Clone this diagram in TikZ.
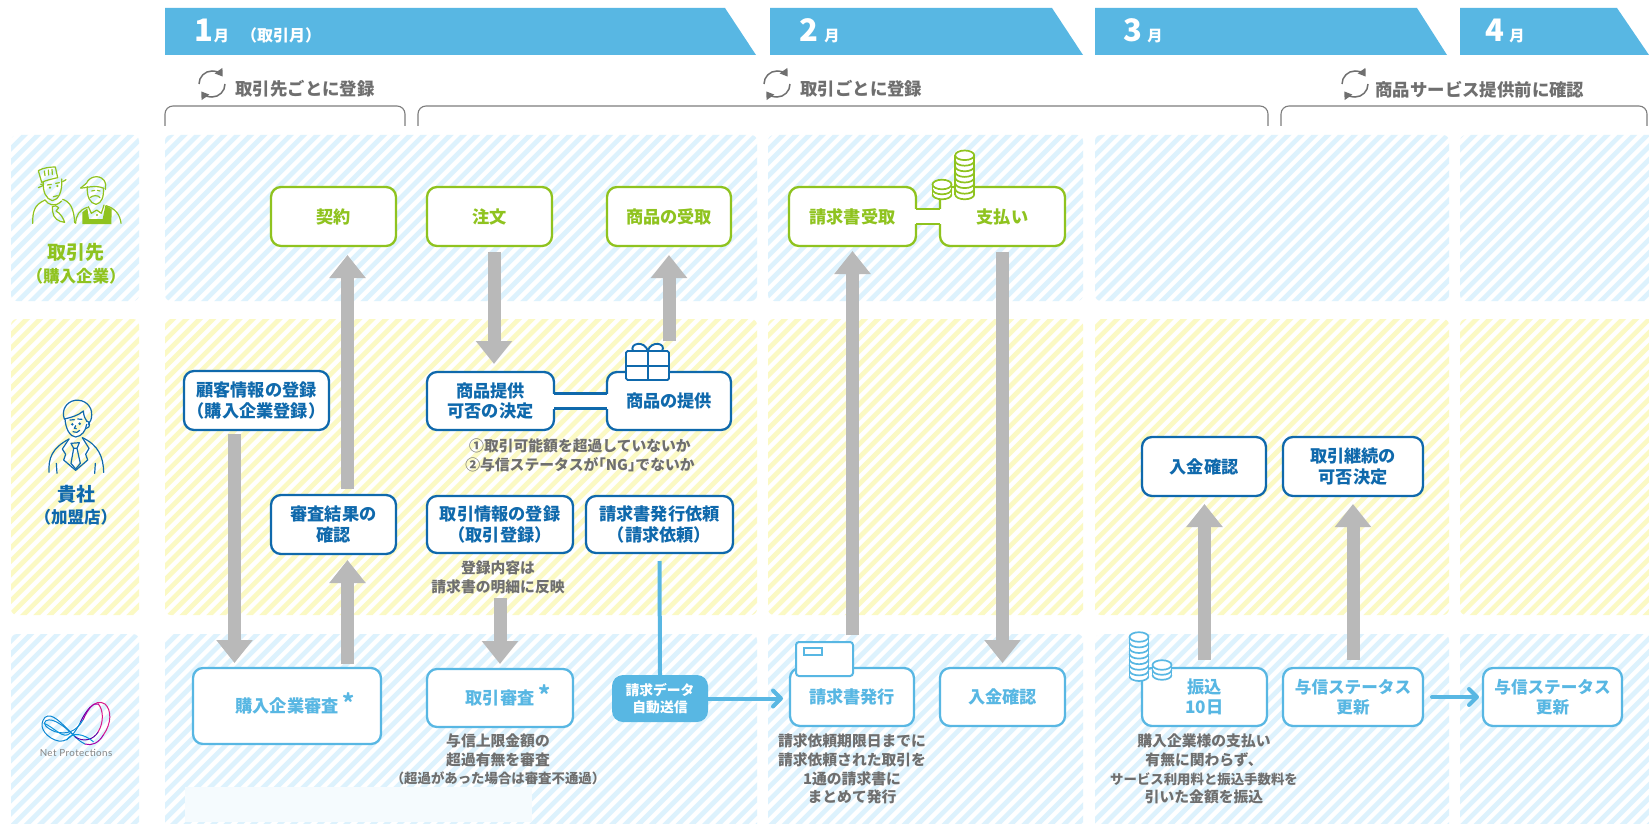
\documentclass[tikz,border=0pt]{standalone}
\usepackage{fontspec}
\setmainfont{Noto Sans CJK JP}
\newfontfamily\logofont[LetterSpace=4]{Lato}
\usetikzlibrary{arrows.meta,calc}
\definecolor{skyband}{HTML}{58B7E3}
\definecolor{leaf}{HTML}{8FC31F}
\definecolor{navy}{HTML}{0F69AC}
\definecolor{ash}{HTML}{6F6F6F}
\definecolor{arrowgray}{HTML}{B9B9B9}
\definecolor{hatchblue}{HTML}{DDF2FD}
\definecolor{hatchyellow}{HTML}{FBF9C4}
\newcommand\jpsize[2]{\fontsize{#1pt}{#2pt}\selectfont\bfseries}
\tikzset{
  flowbox/.style={rectangle,rounded corners=5pt,fill=white,line width=1.15pt,inner sep=0pt,outer sep=0pt,align=center,font=\jpsize{8.6}{10.3}},
  greenbox/.style={flowbox,draw=leaf,text=leaf},
  navybox/.style={flowbox,draw=navy,text=navy},
  skybox/.style={flowbox,draw=skyband,text=skyband},
  pillbox/.style={rectangle,rounded corners=5.5pt,fill=skyband,text=white,inner sep=0pt,outer sep=0pt,align=center,font=\jpsize{6.9}{8.3}},
  caption/.style={text=ash,align=center,inner sep=0pt,font=\jpsize{7.4}{9.35}},
  subhead/.style={text=ash,anchor=west,inner sep=0pt,font=\jpsize{8.7}{10}},
  rowtitle/.style={align=center,inner sep=0pt,font=\jpsize{9.5}{11}},
  rowsub/.style={align=center,inner sep=0pt,font=\jpsize{8.25}{10}},
  monthlabel/.style={text=white,anchor=base west,inner sep=0pt,font=\jpsize{7.6}{9}},
  band/.style={fill=skyband},
  graystep/.style={draw=arrowgray,line width=6.5pt,-{Triangle[length=11.5pt,width=17.5pt,fill=arrowgray]}},
  skyflow/.style={draw=skyband,line width=2pt,line cap=round,-{Straight Barb[length=4pt,width=8pt,line cap=round,line join=round]}},
  skyline/.style={draw=skyband,line width=2pt},
  bracket/.style={draw=ash!90,line width=.55pt,rounded corners=4pt},
  icongreen/.style={draw=leaf,line width=.6pt,line cap=round,line join=round},
  iconnavy/.style={draw=navy,line width=.6pt,line cap=round,line join=round}
}
% box given by its corners, in pixel coordinates
\newcommand\boxat[7]{\node[#1,minimum width={(#5-#3)*0.5},minimum height={(#6-#4)*0.5}] (#2) at ({(#3+#5)/2},{(#4+#6)/2}) {#7};}
% month band with slanted right end
\newcommand\monthband[3]{\fill[band] (#1,8) -- (#2,8) -- (#3,55) -- (#1,55) -- cycle;}
% review mark after a box label
\newcommand\reviewmark{\rlap{\smash{\kern2pt\raisebox{.5pt}{\fontsize{11.5}{11.5}\selectfont *}}}}
% circular arrows in front of a sub-heading
\newcommand\cycleicon[2]{\begin{scope}[shift={(#1,#2)}]
  \draw[draw=ash,line width=.75pt,-{Triangle[length=3.6pt,width=4.6pt,fill=ash]}] (-6.5pt,0pt) arc[start angle=180,end angle=35,radius=6.5pt];
  \draw[draw=ash,line width=.75pt,-{Triangle[length=3.6pt,width=4.6pt,fill=ash]}] (6.5pt,0pt) arc[start angle=0,end angle=-145,radius=6.5pt];
\end{scope}}
% stack of coins: centre x, centre y of the top coin, rim step, number of rims, colour
\newcommand\coinstack[5]{\begin{scope}[shift={(#1,#2)}]
  \pgfmathsetmacro\stackdrop{#3*#4}
  \fill[white] (-9.5,0) rectangle (9.5,\stackdrop);
  \fill[white] (0,\stackdrop) ellipse[x radius=4.75pt,y radius=2.4pt];
  \fill[white] (0,0) ellipse[x radius=4.75pt,y radius=2.4pt];
  \draw[#5,line width=.85pt] (-9.5,0) -- (-9.5,\stackdrop) (9.5,0) -- (9.5,\stackdrop);
  \draw[#5,line width=.85pt] (0,0) ellipse[x radius=4.75pt,y radius=2.4pt];
  \foreach \k in {1,...,#4}{
    \pgfmathsetmacro\rimy{#3*\k}
    \draw[#5,line width=.85pt] (-9.5,\rimy) arc[start angle=180,end angle=360,x radius=4.75pt,y radius=2.4pt];
  }
\end{scope}}
\begin{document}
\begin{tikzpicture}[x=0.5pt,y=-0.5pt]
\useasboundingbox (0,0) rectangle (1649,824);
\fill[white] (0,0) rectangle (1649,824);

% striped row backgrounds
\begin{scope}
  \clip[rounded corners=3pt]
    (11,135) rectangle (139,301) (165,135) rectangle (757,301) (768,135) rectangle (1083,301)
    (1095,135) rectangle (1449,301) (1460,135) rectangle (1655,301)
    (11,634) rectangle (139,830) (165,634) rectangle (757,830) (768,634) rectangle (1083,830)
    (1095,634) rectangle (1449,830) (1460,634) rectangle (1655,830);
  \foreach \c in {0,13.3,...,2500}{\draw[hatchblue,line width=2.35pt] (\c,0) -- ({\c-830},830);}
\end{scope}
\begin{scope}
  \clip[rounded corners=3pt]
    (11,319) rectangle (139,615) (165,319) rectangle (757,615) (768,319) rectangle (1083,615)
    (1095,319) rectangle (1449,615) (1460,319) rectangle (1655,615);
  \foreach \c in {0,13.3,...,2500}{\draw[hatchyellow,line width=2.35pt] (\c,0) -- ({\c-830},830);}
\end{scope}
\fill[hatchblue!30] (185,787) rectangle (532,822);

% month bands
\monthband{165}{725}{756}
\monthband{770}{1052}{1083}
\monthband{1095}{1417}{1447}
\monthband{1460}{1617}{1649}
\node[monthlabel] (m1) at (194,42) {{\fontsize{15.5}{15.5}\selectfont 1}\kern.3pt 月\kern6pt{\fontsize{8}{9}\selectfont （取引月）}};
\node[monthlabel] (m2) at (799,42) {{\fontsize{15.5}{15.5}\selectfont 2}\kern3pt 月};
\node[monthlabel] (m3) at (1123,42) {{\fontsize{15.5}{15.5}\selectfont 3}\kern2.5pt 月};
\node[monthlabel] (m4) at (1485,42) {{\fontsize{15.5}{15.5}\selectfont 4}\kern2.5pt 月};

% registration spans
\cycleicon{212}{84}\cycleicon{777}{84}\cycleicon{1355}{84}
\node[subhead] (s1) at (235,89) {取引先ごとに登録};
\node[subhead] (s2) at (800,89) {取引ごとに登録};
\node[subhead] (s3) at (1375,90) {商品サービス提供前に確認};
\draw[bracket] (165,126) -- (165,106) -- (405,106) -- (405,126);
\draw[bracket] (418,126) -- (418,106) -- (1268,106) -- (1268,126);
\draw[bracket] (1281,126) -- (1281,106) -- (1647,106) -- (1647,126);

% row titles
\node[rowtitle,text=leaf] (t1) at (76,252) {取引先};
\node[rowsub,text=leaf] (t1b) at (76,276) {（購入企業）};
\node[rowtitle,text=navy] (t2) at (76,494) {貴社};
\node[rowsub,text=navy] (t2b) at (76,517) {（加盟店）};

% customer figures: chef
\begin{scope}[shift={(20,155)},x=0.1667pt,y=-0.1667pt]
  \draw[icongreen] (55,47) .. controls (70,38) and (90,36) .. (106,36) -- (113,68) .. controls (95,72) and (78,76) .. (65,82) -- cycle;
  \draw[icongreen] (75,62) -- (73,48) (86,60) -- (85,45) (97,58) -- (96,43);
  \draw[icongreen] (55,98) -- (68,92) (62,88) -- (70,87) (128,80) -- (138,74);
  \draw[icongreen] (70,82) .. controls (68,110) and (78,132) .. (97,137) .. controls (115,135) and (128,110) .. (125,72);
  \fill[leaf] (90,98) circle (.6pt) (112,93) circle (.6pt);
  \draw[icongreen] (100,125) -- (112,122) (82,90) -- (94,88) (107,85) -- (118,83);
  \draw[icongreen] (38,205) .. controls (38,170) and (42,150) .. (75,135) (128,133) .. controls (150,140) and (162,160) .. (164,203);
  \draw[icongreen] (75,135) .. controls (85,150) and (105,158) .. (125,138);
  \draw[icongreen] (97,155) .. controls (103,150) and (112,152) .. (116,158) -- (108,168) .. controls (122,175) and (130,190) .. (134,202) .. controls (115,200) and (100,190) .. (98,170) -- cycle;
\end{scope}
% customer figures: shopkeeper with apron
\begin{scope}[shift={(20,155)},x=0.1667pt,y=-0.1667pt]
  \fill[leaf] (187,207) -- (187,172) -- (202,160) -- (207,192) -- (248,192) -- (256,152) -- (275,162) -- (274,207) -- cycle;
  \draw[icongreen] (167,205) .. controls (168,180) and (178,165) .. (202,157) (258,152) .. controls (285,160) and (300,178) .. (303,205);
  \draw[icongreen] (182,99) -- (200,84) .. controls (205,68) and (235,55) .. (252,76) .. controls (258,85) and (258,95) .. (256,103);
  \draw[icongreen] (182,99) .. controls (195,100) and (225,88) .. (252,100);
  \draw[icongreen] (202,95) .. controls (200,125) and (210,145) .. (228,148) .. controls (245,145) and (252,125) .. (250,100);
  \draw[icongreen] (210,128) .. controls (218,120) and (235,120) .. (240,128) (215,108) -- (224,106) (232,106) -- (240,108);
  \draw[icongreen] (205,155) -- (214,175) -- (230,165) -- (244,175) -- (252,150);
  \fill[leaf] (231,180) circle (.55pt);
\end{scope}

% staff figure
\begin{scope}[shift={(35,395)},x=0.1667pt,y=-0.1667pt]
  \draw[iconnavy] (88,72) .. controls (78,45) and (95,20) .. (120,16) .. controls (150,12) and (172,35) .. (170,60) .. controls (170,72) and (166,80) .. (160,88);
  \draw[iconnavy] (88,72) .. controls (105,68) and (130,62) .. (145,48) .. controls (146,62) and (150,72) .. (156,80);
  \draw[iconnavy] (90,72) .. controls (92,102) and (105,125) .. (122,126) .. controls (140,124) and (152,108) .. (155,88);
  \draw[iconnavy] (155,78) .. controls (165,78) and (168,98) .. (154,100);
  \fill[navy] (112,88) circle (.7pt) (134,86) circle (.7pt);
  \draw[iconnavy] (105,75) -- (118,74) (128,72) -- (141,73) (122,92) -- (118,100) -- (124,101) (114,110) .. controls (122,115) and (130,112) .. (134,106);
  \draw[iconnavy] (42,232) .. controls (40,190) and (50,160) .. (102,132) (142,128) .. controls (190,150) and (205,185) .. (206,232);
  \draw[iconnavy] (64,205) -- (66,235) (181,205) -- (179,235);
  \draw[iconnavy] (102,132) -- (82,162) -- (92,178) -- (86,195) -- (122,226) -- (158,195) -- (152,178) -- (162,160) -- (142,128);
  \draw[iconnavy] (108,145) -- (133,143) -- (126,160) -- (116,160) -- cycle (116,160) -- (108,205) -- (122,222) -- (136,205) -- (126,160);
\end{scope}

% Net Protections mark
\begin{scope}[shift={(30,690)},x=0.1667pt,y=-0.1667pt,line width=.5pt,line cap=round]
  \draw[cyan!70!blue] (152,95) .. controls (135,130) and (110,165) .. (75,150) .. controls (40,135) and (25,105) .. (45,82) .. controls (65,65) and (95,100) .. (130,135);
  \draw[cyan!70!blue] (130,135) .. controls (140,145) and (150,155) .. (165,162);
  \draw[violet!70!magenta] (165,162) .. controls (185,168) and (205,160) .. (220,135);
  \draw[magenta!90!black] (220,135) .. controls (245,100) and (245,60) .. (225,42) .. controls (210,32) and (195,38) .. (180,52);
  \draw[violet!70!blue] (180,52) .. controls (168,65) and (160,78) .. (152,95);
  \draw[cyan!70!blue] (160,88) .. controls (140,125) and (110,135) .. (75,125) .. controls (50,115) and (35,100) .. (48,92) .. controls (70,80) and (110,115) .. (135,140);
  \draw[violet!70!blue] (135,140) .. controls (160,158) and (190,150) .. (205,125);
  \draw[magenta!90!black] (205,125) .. controls (222,95) and (220,60) .. (205,42);
  \draw[violet!70!magenta] (205,42) .. controls (190,35) and (172,60) .. (160,88);
  \draw[cyan!80!blue] (120,130) .. controls (100,150) and (70,110) .. (42,100) (110,150) .. controls (125,125) and (160,130) .. (190,155);
\end{scope}
\node[text=ash!85,inner sep=0pt,font=\logofont\fontsize{4.9}{6}\selectfont] (logo) at (76,753) {Net Protections};

% customer row
\boxat{greenbox}{keiyaku}{271}{187}{396}{246}{契約}
\boxat{greenbox}{chumon}{427}{187}{552}{246}{注文}
\boxat{greenbox}{uketori}{607}{187}{731}{246}{商品の受取}
\boxat{greenbox}{seikyu}{789}{187}{916}{246}{請求書受取}
\boxat{greenbox}{shiharai}{940}{187}{1065}{246}{支払い}
\fill[white] ([shift={(-2,-7.5)}]seikyu.east) rectangle ([shift={(2,7.5)}]shiharai.west);
\draw[leaf,line width=1.15pt] ([yshift=3.75pt]seikyu.east) -- ([yshift=3.75pt]shiharai.west) ([yshift=-3.75pt]seikyu.east) -- ([yshift=-3.75pt]shiharai.west);
\coinstack{942}{184.5}{5}{2}{leaf}
\coinstack{964.7}{155.3}{5.6}{7}{leaf}

% merchant row
\boxat{navybox}{kokyaku}{184}{371}{329}{430}{顧客情報の登録\\（購入企業登録）}
\boxat{navybox}{kekka}{271}{495}{396}{554}{審査結果の\\確認}
\boxat{navybox}{kahi}{427}{372}{554}{430}{商品提供\\可否の決定}
\boxat{navybox}{teikyo}{607}{372}{731}{430}{商品の提供}
\fill[white] ([shift={(-2,-7.5)}]kahi.east) rectangle ([shift={(2,7.5)}]teikyo.west);
\draw[navy,line width=1.15pt] ([yshift=3.75pt]kahi.east) -- ([yshift=3.75pt]teikyo.west) ([yshift=-3.75pt]kahi.east) -- ([yshift=-3.75pt]teikyo.west);
\boxat{navybox}{torihiki}{427}{496}{573}{553}{取引情報の登録\\（取引登録）}
\boxat{navybox}{irai}{586}{496}{733}{553}{請求書発行依頼\\（請求依頼）}
\boxat{navybox}{kakunin}{1142}{437}{1266}{496}{入金確認}
\boxat{navybox}{keizoku}{1283}{437}{1423}{496}{取引継続の\\可否決定}
\node[caption] (c1) at (580,455) {①取引可能額を超過していないか\\②与信ステータスが\kern-.5em「NG」\kern-.5em でないか};
\node[caption] (c2) at (498,577.5) {登録内容は\\請求書の明細に反映};

% gift on the provision box
\draw[navy,line width=.95pt,fill=white,line join=round] (633,351) .. controls (629,343) and (645,340) .. (647.7,351) .. controls (651,340) and (667,343) .. (662,351);
\draw[navy,line width=.95pt,fill=white,rounded corners=.8pt] (626,351) rectangle (669,380);
\draw[navy,line width=.95pt] (647.7,351) -- (647.7,380) (626,365.7) -- (669,365.7);

% payment service row
\boxat{skybox}{kobuy}{193}{668}{381}{744}{購入企業審査\reviewmark}
\boxat{skybox}{shinsa}{427}{669}{573}{727}{取引審査\reviewmark}
\boxat{skybox}{hakko}{790}{668}{914}{726}{請求書発行}
\boxat{skybox}{nyukin}{940}{668}{1065}{726}{入金確認}
\boxat{skybox}{furikomi}{1142}{668}{1267}{726}{振込\\10日}
\boxat{skybox,font=\jpsize{8.3}{10.3}}{yoshina}{1283}{668}{1423}{726}{与信ステータス\\更新}
\boxat{skybox,font=\jpsize{8.3}{10.3}}{yoshinb}{1483}{668}{1622}{726}{与信ステータス\\更新}
\boxat{pillbox}{pill}{612}{675}{708}{722}{請求データ\\自動送信}
\node[caption] (c3) at (498,759.5) {与信上限金額の\\超過有無を審査\\{\fontsize{6.7}{9.35}\selectfont（超過があった場合は審査不通過）}};
\node[caption] (c4) at (852,769) {請求依頼期限日までに\\請求依頼された取引を\\1通の請求書に\\まとめて発行};
\node[caption] (c5) at (1204,769) {購入企業様の支払い\\有無に関わらず、\\{\fontsize{6.7}{9.35}\selectfont サービス利用料と振込手数料を}\\引いた金額を振込};

% envelope on the invoice box
\draw[skyband,line width=1pt,fill=white,rounded corners=1.5pt] (796,642) rectangle (853,676);
\draw[skyband,line width=.8pt] (804,648) rectangle (822,655);
\coinstack{1139}{637}{5.6}{7}{skyband}
\coinstack{1162}{665}{5}{2}{skyband}

% process arrows
\draw[graystep] ([shift={(-22,4)}]kokyaku.south) -- ([shift={(-52.5,-5)}]kobuy.north);
\draw[graystep] ([shift={(60.5,-4)}]kobuy.north) -- ([shift={(14,6)}]kekka.south);
\draw[graystep] ([shift={(14,-6)}]kekka.north) -- ([shift={(14,9)}]keiyaku.south);
\draw[graystep] ([shift={(4.5,6)}]chumon.south) -- ([shift={(3.5,-8)}]kahi.north);
\draw[graystep] ([shift={(0,-31)}]teikyo.north) -- ([shift={(0,9)}]uketori.south);
\draw[graystep] ([shift={(0,45)}]torihiki.south) -- ([shift={(0,-5)}]shinsa.north);
\draw[graystep] ([shift={(0.5,-33)}]hakko.north) -- ([shift={(0,5)}]seikyu.south);
\draw[graystep] ([shift={(0,6)}]shiharai.south) -- ([shift={(0,-5)}]nyukin.north);
\draw[graystep] ([shift={(0,-8)}]furikomi.north) -- ([shift={(0.5,8)}]kakunin.south);
\draw[graystep] ([shift={(0,-8)}]yoshina.north) -- ([shift={(0,8)}]keizoku.south);

% automatic data transfer
\draw[skyline] ([shift={(0,8)}]irai.south) -- (pill.north);
\draw[skyflow,shorten >=3.5pt] (pill.east) -- (pill.east -| hakko.west);
\draw[skyflow,shorten <=4.5pt,shorten >=2pt] (yoshina.east) -- (yoshinb.west);
\end{tikzpicture}
\end{document}
